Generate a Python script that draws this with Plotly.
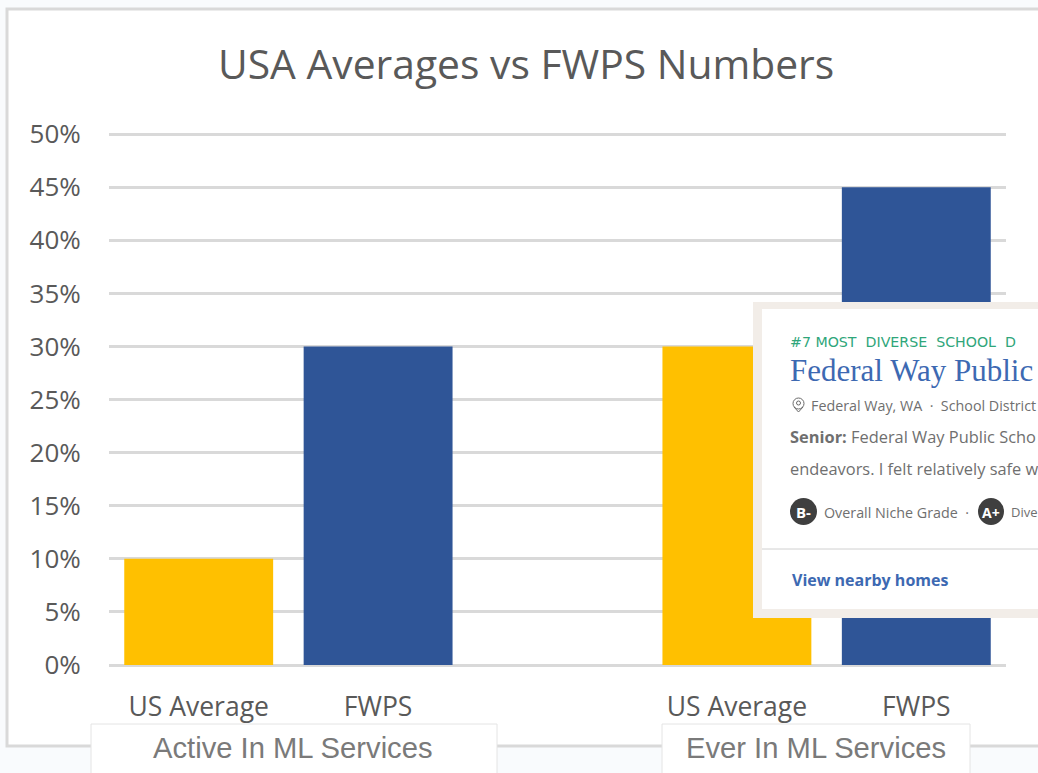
import plotly.graph_objects as go

categories = ["US Average", "FWPS", "", "US Average", "FWPS"]
values = [10, 30, None, 30, 45]
bar_colors = ["#FFC000", "#2F5597", "#FFFFFF", "#FFC000", "#2F5597"]
tick_values = [0, 5, 10, 15, 20, 25, 30, 35, 40, 45, 50]
group_labels = ["Active In ML Services", "Ever In ML Services"]
chart_title = "USA Averages vs FWPS Numbers"

W, H = 1038, 773
L, R, T, B = 109, 1006, 113, 665


def px(x):
    return (x - L) / (R - L)


def py(y):
    return (B - y) / (B - T)


def rect(x0, y0, x1, y1, fill, line=None, lw=0, layer="above"):
    return dict(type="rect", xref="paper", yref="paper", x0=px(x0), x1=px(x1), y0=py(y0), y1=py(y1),
                fillcolor=fill, line=dict(color=line or fill, width=lw), layer=layer)


def circle(x0, y0, x1, y1, fill, line=None, lw=0):
    s = rect(x0, y0, x1, y1, fill, line, lw)
    s["type"] = "circle"
    return s


def seg(x0, y0, x1, y1, color, lw=1):
    return dict(type="line", xref="paper", yref="paper", x0=px(x0), x1=px(x1), y0=py(y0), y1=py(y1),
                line=dict(color=color, width=lw), layer="above")


def label(x, y, text, size, color, family, anchor="left"):
    return dict(xref="paper", yref="paper", x=px(x), y=py(y), text=text, showarrow=False, xanchor=anchor,
                yanchor="middle", align=anchor, font=dict(size=size, color=color, family=family),
                borderpad=0, borderwidth=0)


positions = list(range(len(categories)))
shown = [p for p, c in zip(positions, categories) if c]

fig = go.Figure(go.Bar(x=positions, y=values, marker=dict(color=bar_colors, line_width=0), hoverinfo="skip"))

BODY = "Open Sans, sans-serif"
GREY = "#6f6f6f"
shapes = [
    # chart frame on the faintly tinted page
    rect(7, 9, 1060, 746, "#ffffff", "#d9d9d9", 3, layer="below"),
    # group label boxes
    rect(91, 724, 497, 790, "#ffffff", "#e4e4e4", 1),
    rect(662, 724, 970, 790, "#ffffff", "#e4e4e4", 1),
    # pasted card
    rect(753, 302, 1060, 618, "#f2ede8"),
    rect(762, 309, 1060, 609, "#ffffff"),
    seg(762, 549, 1060, 549, "#d0d0d0"),
    circle(793, 398, 804, 409, "#ffffff", "#6a6a6a", 1),
    circle(796.5, 401, 800.5, 405, "#ffffff", "#6a6a6a", 1),
    seg(794, 407, 798.5, 412, "#6a6a6a"),
    seg(803, 407, 798.5, 412, "#6a6a6a"),
    circle(790, 498, 817, 525, "#3f3f3f"),
    circle(978, 498, 1004, 525, "#3f3f3f"),
]

annotations = [
    label(526, 63, chart_title, 40.8, "#595959", BODY, "center"),
    label(293, 748, group_labels[0], 29.2, "#7a7a7a", "Liberation Sans, Arial", "center"),
    label(816, 748, group_labels[1], 29.2, "#7a7a7a", "Liberation Sans, Arial", "center"),
    label(790, 342, "#7 MOST  DIVERSE  SCHOOL  D", 14.2, "#2fa67a", "DejaVu Sans, sans-serif"),
    label(790, 370, "Federal Way Public", 31, "#3d69b2", "Liberation Serif, serif"),
    label(811, 405, "Federal Way, WA  ·  School District", 14.3, GREY, BODY),
    label(790, 437, "<b>Senior:</b> Federal Way Public Scho", 16.4, GREY, BODY),
    label(790, 468, "endeavors. I felt relatively safe w", 16.4, GREY, BODY),
    label(803.5, 512, "<b>B-</b>", 15, "#ffffff", BODY, "center"),
    label(824, 512, "Overall Niche Grade  ·", 14.3, GREY, BODY),
    label(991, 512, "<b>A+</b>", 14, "#ffffff", BODY, "center"),
    label(1011, 512, "Dive", 13, GREY, BODY),
    label(792, 580, "<b>View nearby homes</b>", 16, "#3d69b2", BODY),
]

fig.update_layout(
    width=W, height=H, autosize=False,
    margin=dict(l=L, r=W - R, t=T, b=H - B, pad=0),
    paper_bgcolor="#f9fbfd", plot_bgcolor="rgba(0,0,0,0)",
    bargap=0.17, showlegend=False,
    font=dict(family=BODY, color="#595959"),
    shapes=shapes, annotations=annotations,
    xaxis=dict(range=[-0.5, 4.5], tickmode="array", tickvals=shown,
               ticktext=[c for c in categories if c], showgrid=False, showline=False, zeroline=False,
               ticks="outside", ticklen=18, tickcolor="rgba(0,0,0,0)", tickfont=dict(size=26.5, color="#595959")),
    yaxis=dict(range=[0, 52], tickmode="array", tickvals=tick_values, ticktext=[f"{v}%" for v in tick_values],
               showgrid=True, gridcolor="#d9d9d9", gridwidth=3, zeroline=True, zerolinecolor="#d9d9d9",
               zerolinewidth=3, showline=False, ticks="outside", ticklen=22, tickcolor="rgba(0,0,0,0)",
               tickfont=dict(size=26, color="#595959")),
)

fig.write_html("out.html", config={"displayModeBar": False},
               post_script="document.body.style.margin='0';document.documentElement.style.overflow='hidden';")
